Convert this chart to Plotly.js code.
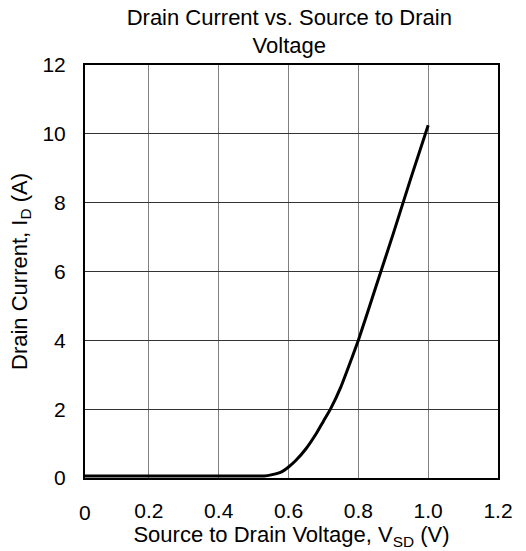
<!DOCTYPE html>
<html>
<head>
<meta charset="utf-8">
<script src="https://cdn.plot.ly/plotly-3.0.1.min.js"></script>
<style>body{margin:0;background:#fff}#chart{width:526px;height:551px}</style>
</head>
<body>
<div id="chart"></div>
<script>
const vsd = [0, 0.1, 0.2, 0.3, 0.4, 0.5, 0.53, 0.55, 0.58, 0.6, 0.62, 0.65, 0.68, 0.7, 0.72, 0.75, 0.78, 0.8, 0.85, 0.9, 0.95, 1.0];
const id  = [0.06, 0.06, 0.06, 0.06, 0.06, 0.06, 0.06, 0.09, 0.18, 0.32, 0.5, 0.85, 1.3, 1.65, 2.0, 2.65, 3.45, 4.0, 5.55, 7.1, 8.7, 10.25];
const xTicks = [0.2, 0.4, 0.6, 0.8, 1.0, 1.2];
const xTickText = ['0.2', '0.4', '0.6', '0.8', '1.0', '1.2'];
const xOriginLabel = '0';
const yTicks = [0, 2, 4, 6, 8, 10, 12];

const fam = 'Liberation Sans, Arial, sans-serif';

Plotly.newPlot('chart', [{
  x: vsd, y: id, type: 'scatter', mode: 'lines',
  line: {color: '#000', width: 3, shape: 'spline', smoothing: 0.6},
  hoverinfo: 'none'
}], {
  width: 526, height: 551,
  margin: {l: 85, r: 28, t: 65, b: 73},
  paper_bgcolor: '#fff', plot_bgcolor: '#fff',
  font: {family: fam, color: '#000', size: 21},
  showlegend: false,
  title: {text: 'Drain Current vs. Source to Drain<br>Voltage', font: {family: fam, size: 22, color: '#000'},
          x: 0.55, xanchor: 'center', y: 0.955, yanchor: 'top'},
  xaxis: {
    range: [0.017, 1.2], tickvals: xTicks, ticktext: xTickText,
    showgrid: true, gridcolor: '#808080', gridwidth: 1,
    showline: true, linecolor: '#000', linewidth: 2, mirror: true,
    zeroline: false, ticks: '', ticklabelstandoff: 13,
    tickfont: {size: 21},
    title: {text: 'Source to Drain Voltage, V<sub>SD</sub> (V)', font: {size: 22}, standoff: 0}
  },
  yaxis: {
    range: [0, 12], tickvals: yTicks,
    showgrid: true, gridcolor: '#333', gridwidth: 1,
    showline: true, linecolor: '#000', linewidth: 2, mirror: true,
    zeroline: false, ticks: '', ticklabelstandoff: 13,
    tickfont: {size: 21},
    title: {text: 'Drain Current, I<sub>D</sub> (A)', font: {size: 22}, standoff: 9}
  },
  annotations: [{
    text: xOriginLabel, xref: 'paper', yref: 'paper', x: 0, y: 0,
    xanchor: 'center', yanchor: 'top', yshift: -21, showarrow: false,
    font: {family: fam, size: 21, color: '#000'}
  }]
}, {staticPlot: true});
</script>
</body>
</html>
